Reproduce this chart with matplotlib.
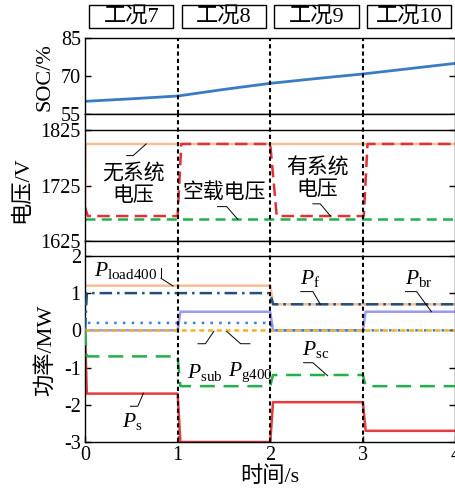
import matplotlib.pyplot as plt
from matplotlib.patches import Rectangle
import matplotlib.transforms as mtransforms

plt.rcParams['font.family'] = ['Liberation Serif', 'Noto Sans CJK SC']
plt.rcParams['mathtext.fontset'] = 'custom'
plt.rcParams['mathtext.rm'] = 'Liberation Serif'
plt.rcParams['mathtext.it'] = 'Liberation Serif:italic'
plt.rcParams['axes.unicode_minus'] = False

# 工况标签
cases = ['工况7', '工况8', '工况9', '工况10']

# SOC 曲线
soc_t = [0, 0.5, 1, 1.5, 2, 2.5, 3, 3.5, 4]
soc = [60, 61, 62.1, 64.7, 67.1, 69, 70.8, 72.9, 75]

# 电压
v_none_t = [0, 0.005, 4]
v_none = [1682, 1800, 1800]
v_sys_t = [0, 0.03, 1.0, 1.04, 2.0, 2.07, 3.01, 3.05, 4]
v_sys = [1686, 1670, 1670, 1800, 1800, 1670, 1670, 1800, 1800]
v_empty_t = [0, 4]
v_empty = [1664, 1664]

# 功率
p_t = [0, 0.02, 1.0, 1.03, 2.0, 2.03, 3.0, 3.03, 4]
p_load400 = [1.2, 1.2, 1.2, 1.2, 1.2, 0.7, 0.7, 0.7, 0.7]
p_f = [0.0, 1.0, 1.0, 1.0, 1.0, 0.7, 0.7, 0.7, 0.7]
p_br = [0.0, 0.0, 0.0, 0.5, 0.5, 0.0, 0.0, 0.5, 0.5]
p_g400 = [0.0, 0.2, 0.2, 0.2, 0.2, 0.0, 0.0, 0.0, 0.0]
p_sub = [0.0, 0.0, 0.0, 0.0, 0.0, 0.0, 0.0, 0.0, 0.0]
p_sc = [0.0, -0.7, -0.7, -1.5, -1.5, -1.2, -1.2, -1.5, -1.5]
p_s = [0.0, -1.7, -1.7, -3.0, -3.0, -1.93, -1.93, -2.7, -2.7]

W, H = 456, 494
fig = plt.figure(figsize=(W / 100, H / 100), dpi=100)
L = 85 / W
AW = 370.5 / W
ax1 = fig.add_axes([L, 1 - 114 / H, AW, 76 / H])
ax2 = fig.add_axes([L, 1 - 241 / H, AW, 127 / H])
ax3 = fig.add_axes([L, 1 - 442 / H, AW, 201 / H])

fs = 14.5
lfs = 16
lw = 1.8

for ax in (ax1, ax2, ax3):
    ax.set_xlim(0, 4)
    ax.tick_params(direction='in', length=4, width=1, labelsize=fs, right=True, pad=3)
    for s in ax.spines.values():
        s.set_linewidth(1.0)
    for xv in (1, 2, 3):
        ax.axvline(xv, color='black', lw=1.5, dashes=(2, 1.5), zorder=5)

# 纵轴标题
def ylab(text, xc, yc):
    fig.text(xc / W, 1 - yc / H, text, rotation=90, ha='center', va='center', fontsize=lfs)

ylab('SOC/%', 45, 77)
ylab('电压/V', 22, 190)
ylab('功率/MW', 45, 350)

# SOC
ax1.plot(soc_t, soc, color='#3a7cc4', lw=2)
ax1.set_ylim(55, 85)
ax1.set_yticks([55, 70, 85])
ax1.set_xticks([])

# 工况框
trans = mtransforms.blended_transform_factory(ax1.transData, ax1.transAxes)
for i, name in enumerate(cases):
    ax1.add_patch(Rectangle((i + 0.5 - 0.455, 1.13), 0.91, 0.30, transform=trans,
                            fill=False, lw=1.0, ec='black', clip_on=False))
    ax1.text(i + 0.5, 1.28, name, transform=trans, ha='center', va='center', fontsize=16)

# 电压
ax2.plot(v_empty_t, v_empty, color='#22b04b', lw=lw, dashes=(4, 2.5))
ax2.plot(v_none_t, v_none, color='#f7be95', lw=lw)
ax2.plot(v_sys_t, v_sys, color='#e0303a', lw=lw, dashes=(5, 2.5))
ax2.axhline(1825, color='black', lw=1.0)
ax2.set_ylim(1625, 1854)
ax2.set_yticks([1625, 1725, 1825])
ax2.set_xticks([])

def leader(ax, bx0, bx1, by, ex, ey):
    ax.plot([bx0, bx1, ex], [by, by, ey], color='black', lw=0.7, clip_on=False, zorder=6)

tfs = 15
ax2.text(0.52, 1726, '无系统\n电压', ha='center', va='center', fontsize=tfs, linespacing=1.15)
leader(ax2, 0.45, 0.52, 1779, 0.66, 1800)
ax2.text(1.50, 1712, '空载电压', ha='center', va='center', fontsize=tfs)
leader(ax2, 1.43, 1.53, 1687, 1.65, 1664)
ax2.text(2.51, 1736, '有系统\n电压', ha='center', va='center', fontsize=tfs, linespacing=1.15)
leader(ax2, 2.46, 2.54, 1692, 2.65, 1670)

# 功率
ax3.plot(p_t, p_load400, color='#f7be95', lw=lw, zorder=2)
ax3.plot(p_t, p_f, color='#1f5180', lw=lw, dashes=(5, 2, 1, 2), zorder=3)
ax3.plot(p_t, p_br, color='#9a9af2', lw=lw, zorder=2)
ax3.plot(p_t, p_g400, color='#3d7fcf', lw=lw, dashes=(1, 2.5), zorder=3)
ax3.plot(p_t, p_sub, color='#f0b323', lw=lw, dashes=(2, 1.5), zorder=3)
ax3.plot(p_t, p_sc, color='#22b04b', lw=lw, dashes=(6, 3.5), zorder=3)
ax3.plot(p_t, p_s, color='#e33d3d', lw=lw, zorder=2)
ax3.axhline(2, color='black', lw=1.0)
ax3.set_ylim(-3, 2.4)
ax3.set_yticks([-3, -2, -1, 0, 1, 2])
ax3.set_xticks([0, 1, 2, 3, 4])
ax3.set_xlabel('时间/s', fontsize=lfs, labelpad=1)

pfs = 15.5
ax3.text(0.10, 1.62, r'$P_{\mathrm{load400}}$', fontsize=pfs, ha='left', va='center')
ax3.plot([0.82, 0.82], [1.68, 1.40], color='black', lw=0.7)
ax3.plot([0.82, 0.95], [1.40, 1.19], color='black', lw=0.7)
ax3.text(2.32, 1.38, r'$P_{\mathrm{f}}$', fontsize=pfs, ha='left', va='center')
leader(ax3, 2.33, 2.46, 1.04, 2.54, 0.70)
ax3.text(3.45, 1.38, r'$P_{\mathrm{br}}$', fontsize=pfs, ha='left', va='center')
leader(ax3, 3.46, 3.58, 1.04, 3.74, 0.50)
ax3.text(2.34, -0.52, r'$P_{\mathrm{sc}}$', fontsize=pfs, ha='left', va='center')
leader(ax3, 2.36, 2.46, -0.87, 2.62, -1.22)
ax3.text(1.10, -1.12, r'$P_{\mathrm{sub}}$', fontsize=pfs, ha='left', va='center')
leader(ax3, 1.22, 1.30, -0.36, 1.39, -0.03)
ax3.text(1.54, -1.12, r'$P_{\mathrm{g400}}$', fontsize=pfs, ha='left', va='center')
leader(ax3, 1.78, 1.68, -0.36, 1.53, -0.03)
ax3.text(0.40, -2.45, r'$P_{\mathrm{s}}$', fontsize=pfs, ha='left', va='center')
leader(ax3, 0.49, 0.57, -2.04, 0.63, -1.69)

fig.savefig('out.png', dpi=100)
